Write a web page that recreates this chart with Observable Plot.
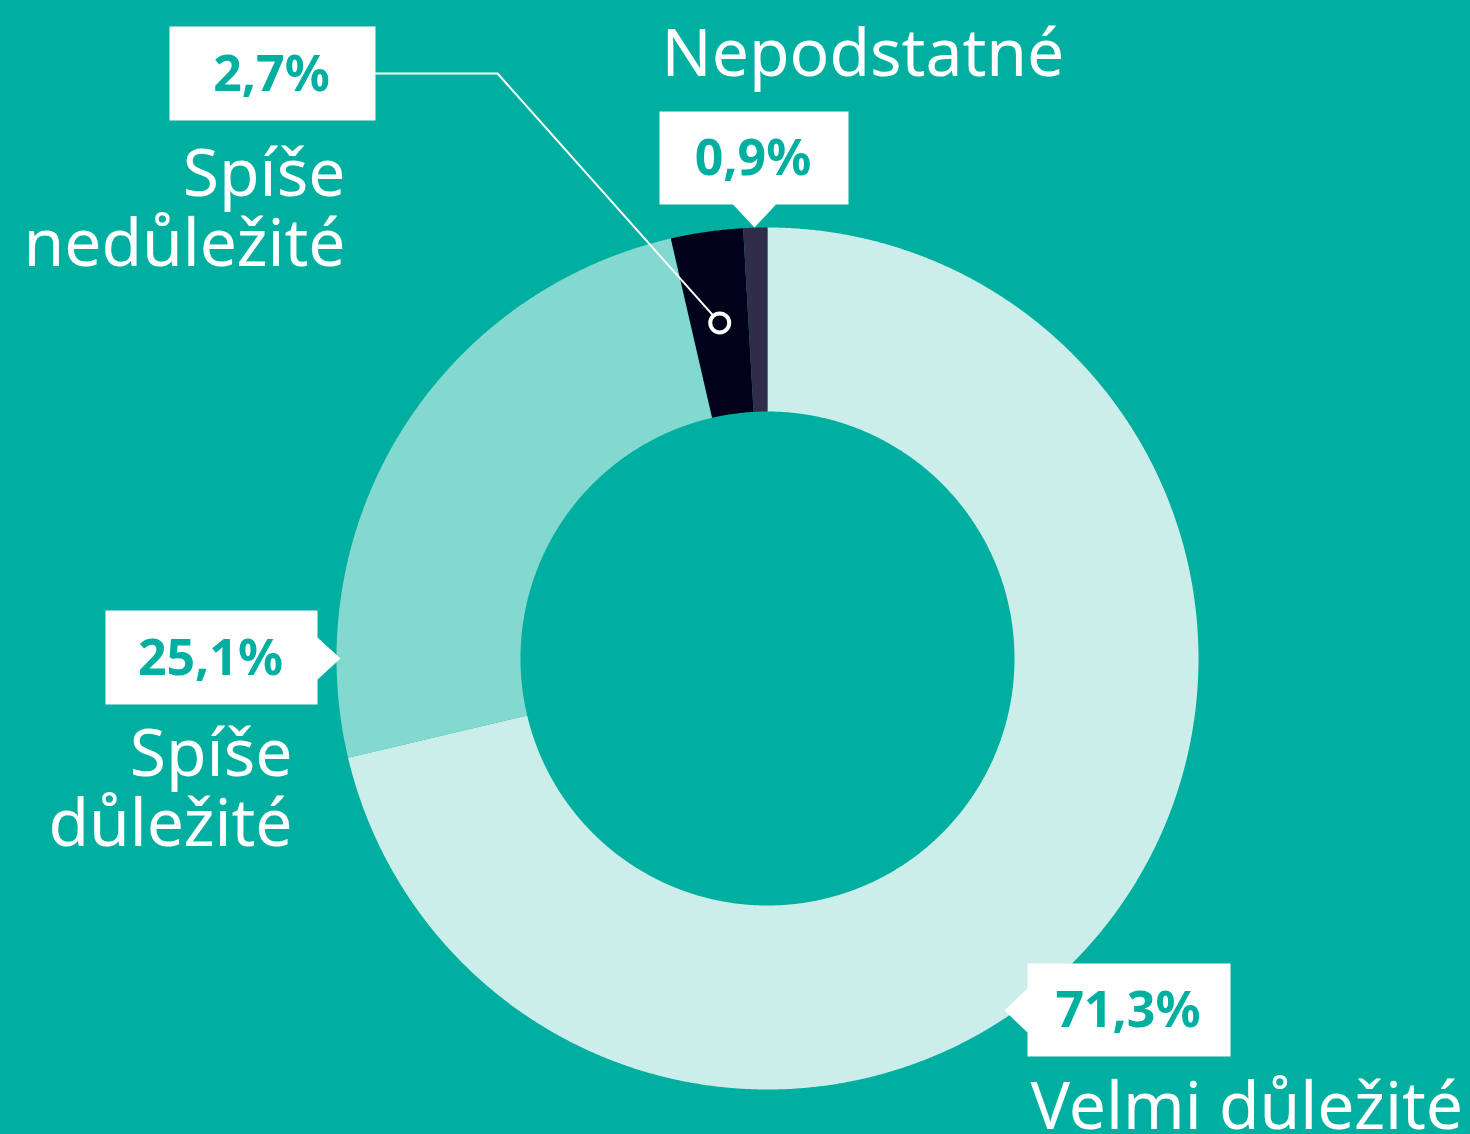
<!DOCTYPE html>
<html>
<head>
<meta charset="utf-8">
<script src="https://cdn.jsdelivr.net/npm/d3@7"></script>
<script src="https://cdn.jsdelivr.net/npm/@observablehq/plot@0.6"></script>
<style>
  html, body { margin: 0; padding: 0; background: #00AFA0; }
  #chart { width: 1470px; height: 1134px; overflow: hidden; }
  #chart svg { display: block; }
</style>
</head>
<body>
<div id="chart"></div>
<script>
// ---- data ----
const categories = ["Velmi důležité", "Spíše důležité", "Spíše nedůležité", "Nepodstatné"];
const values = [71.3, 25.1, 2.7, 0.9];
const valueLabels = ["71,3%", "25,1%", "2,7%", "0,9%"];
const categoryLines = [["Velmi důležité"], ["Spíše", "důležité"], ["Spíše", "nedůležité"], ["Nepodstatné"]];

// ---- styles ----
const sliceColors = ["#CCEEEB", "#83D8CF", "#01021A", "#312C49"];
const BG = "#00AFA0";
const FONT = "'Noto Sans', 'Open Sans', sans-serif";

// ---- layout (pixels) ----
const W = 1470, H = 1134, CX = 767, CY = 658, R_OUT = 431, R_IN = 247;
const X = px => (px - CX) / R_OUT;   // pixel -> data units
const Y = py => (CY - py) / R_OUT;
const innerRatio = R_IN / R_OUT;

// value box per category: [x1, y1, x2, y2], pointer side and tip
const boxLayout = [
  {box: [1027, 963, 1230, 1056], pointer: "left", tip: [1004, 1010], half: 22},
  {box: [105, 610, 317, 704], pointer: "right", tip: [340, 658], half: 21},
  {box: [169, 26, 375, 120], pointer: "none"},
  {box: [659, 111, 848, 204], pointer: "bottom", tip: [754, 227], half: 21.5}
];
// category label: [x, baseline of last line, anchor]
const textLayout = [
  [1030, 1128, "start"],
  [292, 845, "end"],
  [345, 265, "end"],
  [661, 75, "start"]
];
const leaderElbow = [497, 73];

// ---- geometry from data ----
const rows = categories.map((c, i) => ({cat: c, value: values[i]}));
const arcs = d3.pie().sort(null).value(d => d.value).startAngle(0).endAngle(2 * Math.PI)(rows);

const slicePts = [];
arcs.forEach(a => {
  const n = Math.max(4, Math.ceil((a.endAngle - a.startAngle) / 0.004));
  for (let i = 0; i <= n; i++) {
    const t = a.startAngle + (a.endAngle - a.startAngle) * i / n;
    slicePts.push({cat: a.data.cat, x: Math.sin(t), y: Math.cos(t)});
  }
  for (let i = n; i >= 0; i--) {
    const t = a.startAngle + (a.endAngle - a.startAngle) * i / n;
    slicePts.push({cat: a.data.cat, x: innerRatio * Math.sin(t), y: innerRatio * Math.cos(t)});
  }
});

// label boxes (rectangle + pointer)
const boxPts = [];
const valueText = [];
boxLayout.forEach((b, i) => {
  const [x1, y1, x2, y2] = b.box;
  let poly;
  if (b.pointer === "left") {
    const [tx, ty] = b.tip;
    poly = [[x1, y1], [x2, y1], [x2, y2], [x1, y2], [x1, ty + b.half], [tx, ty], [x1, ty - b.half]];
  } else if (b.pointer === "right") {
    const [tx, ty] = b.tip;
    poly = [[x1, y1], [x2, y1], [x2, ty - b.half], [tx, ty], [x2, ty + b.half], [x2, y2], [x1, y2]];
  } else if (b.pointer === "bottom") {
    const [tx, ty] = b.tip;
    poly = [[x1, y1], [x2, y1], [x2, y2], [tx + b.half, y2], [tx, ty], [tx - b.half, y2], [x1, y2]];
  } else {
    poly = [[x1, y1], [x2, y1], [x2, y2], [x1, y2]];
  }
  poly.forEach(([px, py]) => boxPts.push({id: i, x: X(px), y: Y(py)}));
  valueText.push({text: valueLabels[i], x: X((x1 + x2) / 2 - 1), y: Y((y1 + y2) / 2 + 1)});
});

// category labels (multi-line)
const catText = categoryLines.map((lines, i) => {
  const [px, py, anchor] = textLayout[i];
  return {text: lines.join("\n"), x: X(px), y: Y(py), anchor};
});

// leader for the small "Spíše nedůležité" slice: to the slice's centroid
const small = arcs[2];
const mid = (small.startAngle + small.endAngle) / 2;
const rMid = (1 + innerRatio) / 2;
const leaderEnd = {x: rMid * Math.sin(mid), y: rMid * Math.cos(mid)};
const b2 = boxLayout[2].box;
const leaderPts = [
  {x: X(b2[2]), y: Y(leaderElbow[1])},
  {x: X(leaderElbow[0]), y: Y(leaderElbow[1])},
  leaderEnd
];

const chart = Plot.plot({
  width: W,
  height: H,
  margin: 0,
  x: {domain: [X(0), X(W)], axis: null},
  y: {domain: [Y(H), Y(0)], axis: null},
  color: {domain: categories, range: sliceColors},
  style: {background: "transparent", overflow: "visible"},
  marks: [
    Plot.line(slicePts, {x: "x", y: "y", z: "cat", fill: "cat", stroke: "none", curve: "linear-closed"}),
    Plot.line(leaderPts, {x: "x", y: "y", stroke: "white", strokeWidth: 2}),
    Plot.dot([leaderEnd], {x: "x", y: "y", r: 9.5, fill: sliceColors[2], stroke: "white", strokeWidth: 4}),
    Plot.line(boxPts, {x: "x", y: "y", z: "id", fill: "white", stroke: "none", curve: "linear-closed"}),
    Plot.text(valueText, {x: "x", y: "y", text: "text", fill: BG, fontSize: 50, fontWeight: "bold",
      fontFamily: FONT, textAnchor: "middle", lineAnchor: "middle"}),
    Plot.text(catText.filter(d => d.anchor === "end"), {x: "x", y: "y", text: "text", fill: "white", fontSize: 66,
      fontFamily: FONT, textAnchor: "end", lineAnchor: "bottom", lineHeight: 1.06}),
    Plot.text(catText.filter(d => d.anchor === "start"), {x: "x", y: "y", text: "text", fill: "white", fontSize: 66,
      fontFamily: FONT, textAnchor: "start", lineAnchor: "bottom", lineHeight: 1.06})
  ]
});
document.getElementById("chart").appendChild(chart);
</script>
</body>
</html>
